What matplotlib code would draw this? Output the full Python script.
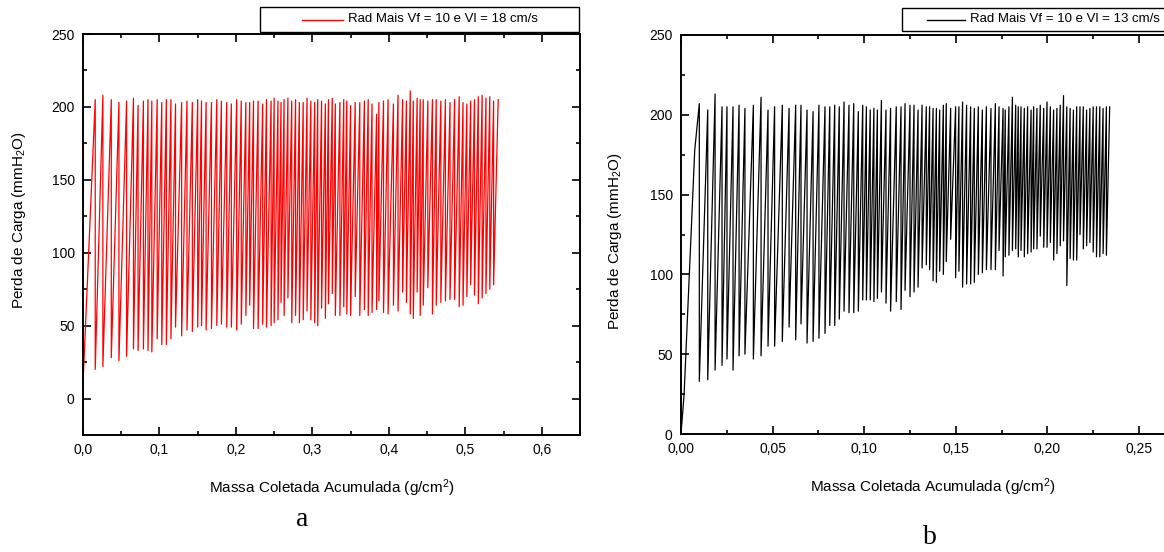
import matplotlib
matplotlib.use("Agg")
import matplotlib.pyplot as plt
from matplotlib.ticker import MultipleLocator, FuncFormatter
from matplotlib.patches import Rectangle
from matplotlib.lines import Line2D

plt.rcParams['font.family'] = 'Liberation Sans'
plt.rcParams['mathtext.fontset'] = 'custom'
plt.rcParams['mathtext.rm'] = 'Liberation Sans'
plt.rcParams['mathtext.it'] = 'Liberation Sans'

# ---- dados (a): Vf = 10, Vl = 18 cm/s ----
red_start_x = [0.0]
red_start_y = [10]
red_x = [0.016, 0.026, 0.037, 0.047, 0.057, 0.066, 0.072, 0.079, 0.085, 0.090,
         0.097, 0.103, 0.109, 0.115, 0.121, 0.129, 0.136, 0.143, 0.150, 0.155,
         0.161, 0.168, 0.175, 0.181, 0.188, 0.194, 0.201, 0.207, 0.213, 0.218,
         0.223, 0.229, 0.235, 0.240, 0.246, 0.250, 0.255, 0.259, 0.263, 0.268,
         0.273, 0.278, 0.283, 0.288, 0.293, 0.298, 0.303, 0.307, 0.312, 0.317,
         0.321, 0.326, 0.330, 0.336, 0.341, 0.345, 0.350, 0.356, 0.362, 0.368,
         0.373, 0.378, 0.384, 0.387, 0.393, 0.399, 0.406, 0.412, 0.418, 0.423,
         0.428, 0.432, 0.437, 0.441, 0.445, 0.451, 0.457, 0.462, 0.468, 0.474,
         0.480, 0.486, 0.492, 0.497, 0.502, 0.507, 0.512, 0.517, 0.522, 0.527,
         0.532, 0.537]
red_peak = [205, 208, 205, 203, 204, 206, 201, 204, 205, 204,
            205, 203, 205, 205, 202, 203, 204, 203, 205, 204,
            203, 203, 205, 204, 203, 202, 205, 204, 203, 203,
            204, 204, 202, 205, 204, 206, 204, 203, 205, 206,
            204, 205, 203, 203, 206, 204, 203, 205, 204, 202,
            205, 206, 202, 203, 205, 204, 201, 203, 203, 204,
            205, 202, 195, 203, 204, 205, 202, 208, 205, 204,
            211, 204, 206, 205, 205, 204, 205, 205, 204, 205,
            203, 205, 207, 203, 202, 204, 205, 207, 208, 206,
            207, 204]
red_trough = [20, 22, 28, 26, 29, 34, 33, 34, 33, 32,
              41, 37, 37, 41, 49, 43, 47, 46, 49, 50,
              47, 48, 50, 51, 49, 49, 47, 51, 57, 64,
              48, 48, 51, 49, 50, 52, 54, 66, 57, 69,
              52, 57, 52, 54, 60, 54, 52, 50, 62, 55,
              65, 72, 57, 57, 63, 58, 57, 70, 57, 61,
              57, 59, 61, 67, 59, 58, 64, 60, 73, 66,
              58, 55, 73, 57, 64, 76, 58, 64, 66, 67,
              68, 68, 63, 64, 70, 78, 71, 65, 69, 72,
              75, 78]
red_end = (0.543, 205)

# ---- dados (b): Vf = 10, Vl = 13 cm/s ----
blk_start_x = [0.0, 0.0017, 0.0075]
blk_start_y = [0, 25, 178]
blk_x = [0.0100, 0.0146, 0.0186, 0.0224, 0.0251, 0.0284, 0.0317, 0.0349, 0.0395, 0.0437,
         0.0475, 0.0511, 0.0553, 0.0590, 0.0626, 0.0655, 0.0688, 0.0721, 0.0753, 0.0786,
         0.0812, 0.0839, 0.0864, 0.0890, 0.0917, 0.0943, 0.0968, 0.0992, 0.1012, 0.1033,
         0.1053, 0.1072, 0.1094, 0.1119, 0.1144, 0.1175, 0.1201, 0.1223, 0.1250, 0.1272,
         0.1294, 0.1316, 0.1339, 0.1357, 0.1376, 0.1394, 0.1412, 0.1432, 0.1448, 0.1472,
         0.1499, 0.1517, 0.1537, 0.1559, 0.1581, 0.1601, 0.1623, 0.1645, 0.1667, 0.1692,
         0.1716, 0.1736, 0.1758, 0.1770, 0.1790, 0.1809, 0.1827, 0.1841, 0.1856, 0.1874,
         0.1892, 0.1911, 0.1925, 0.1943, 0.1961, 0.1980, 0.1998, 0.2016, 0.2034, 0.2052,
         0.2070, 0.2088, 0.2106, 0.2124, 0.2142, 0.2160, 0.2178, 0.2196, 0.2214, 0.2232,
         0.2250, 0.2268, 0.2286, 0.2304, 0.2322]
blk_peak = [207, 203, 213, 205, 205, 205, 206, 204, 206, 211,
            203, 205, 206, 204, 206, 206, 203, 202, 206, 205,
            205, 206, 205, 208, 206, 207, 202, 206, 205, 203,
            204, 203, 209, 203, 204, 205, 205, 207, 206, 206,
            203, 206, 205, 205, 204, 204, 203, 206, 207, 204,
            205, 205, 208, 206, 205, 204, 205, 203, 205, 204,
            207, 205, 204, 203, 205, 211, 206, 205, 205, 204,
            205, 203, 205, 204, 206, 204, 208, 205, 203, 204,
            206, 212, 205, 204, 203, 205, 205, 205, 203, 204,
            205, 205, 205, 204, 205]
blk_trough = [33, 34, 40, 43, 47, 40, 49, 50, 47, 49,
              55, 55, 58, 67, 59, 69, 57, 58, 60, 63,
              68, 68, 72, 77, 76, 76, 77, 84, 84, 84,
              83, 85, 89, 82, 77, 83, 78, 90, 86, 89,
              92, 104, 106, 103, 96, 95, 102, 100, 108, 122,
              98, 102, 92, 94, 94, 95, 100, 101, 103, 103,
              103, 115, 99, 111, 112, 115, 116, 111, 115, 111,
              113, 114, 116, 116, 124, 117, 117, 120, 109, 113,
              118, 121, 93, 110, 109, 109, 125, 116, 118, 120,
              114, 111, 111, 113, 112]
blk_end = (0.234, 205)


def sawtooth(sx, sy, ev_x, peaks, troughs, end):
    xs, ys = list(sx), list(sy)
    for x, p, t in zip(ev_x, peaks, troughs):
        xs += [x, x]
        ys += [p, t]
    xs.append(end[0])
    ys.append(end[1])
    return xs, ys


def comma(fmt):
    return FuncFormatter(lambda v, pos: fmt.format(v).replace('.', ','))


def style_axes(ax, xmaj, xmin, xfmt):
    ax.xaxis.set_major_locator(MultipleLocator(xmaj))
    ax.xaxis.set_minor_locator(MultipleLocator(xmin))
    ax.yaxis.set_major_locator(MultipleLocator(50))
    ax.yaxis.set_minor_locator(MultipleLocator(25))
    ax.xaxis.set_major_formatter(comma(xfmt))
    ax.tick_params(which='both', direction='in', top=True, right=True,
                   labelsize=10, width=1.2, pad=6)
    ax.tick_params(which='major', length=6)
    ax.tick_params(which='minor', length=3)
    for s in ax.spines.values():
        s.set_linewidth(1.4)


W, H = 1164, 552
fig = plt.figure(figsize=(W / 100, H / 100), dpi=100)

# painel a
ax_a = fig.add_axes([83 / W, (H - 435) / H, 497 / W, 401 / H])
xa, ya = sawtooth(red_start_x, red_start_y, red_x, red_peak, red_trough, red_end)
ax_a.plot(xa, ya, color='#ff0000', lw=0.9)
ax_a.set_xlim(0, 0.65)
ax_a.set_ylim(-25, 250)
style_axes(ax_a, 0.1, 0.05, '{:.1f}')
ax_a.set_xlabel('Massa Coletada Acumulada (g/cm$^{2}$)', fontsize=11)
ax_a.set_ylabel('Perda de Carga (mmH$_{2}$O)', fontsize=11)
ax_a.xaxis.set_label_coords(0.5, -0.132)
ax_a.xaxis.label.set_va('center')
ax_a.yaxis.set_label_coords(-0.129, 0.536)
ax_a.yaxis.label.set_va('center')

# painel b (cortado na borda direita)
wb = 0.29 * 1832
ax_b = fig.add_axes([681 / W, (H - 434) / H, wb / W, 399 / H])
xb, yb = sawtooth(blk_start_x, blk_start_y, blk_x, blk_peak, blk_trough, blk_end)
ax_b.plot(xb, yb, color='black', lw=0.9)
ax_b.set_xlim(0, 0.29)
ax_b.set_ylim(0, 250)
style_axes(ax_b, 0.05, 0.025, '{:.2f}')
ax_b.set_xlabel('Massa Coletada Acumulada (g/cm$^{2}$)', fontsize=11)
ax_b.set_ylabel('Perda de Carga (mmH$_{2}$O)', fontsize=11)
ax_b.xaxis.set_label_coords((933 - 681) / wb, -0.133)
ax_b.xaxis.label.set_va('center')
ax_b.yaxis.set_label_coords((615 - 681) / wb, 0.484)
ax_b.yaxis.label.set_va('center')


# legendas desenhadas em pixels da figura
def px(x, y):
    return x / W, 1 - y / H


def legend_box(x0, x1, y0, y1, lx0, lx1, tx, color, label):
    fig.add_artist(Rectangle(px(x0, y1), (x1 - x0) / W, (y1 - y0) / H,
                             transform=fig.transFigure, fill=False,
                             ec='black', lw=1.0))
    ym = (y0 + y1) / 2
    fig.add_artist(Line2D([lx0 / W, lx1 / W], [1 - ym / H] * 2,
                          transform=fig.transFigure, color=color, lw=1.0))
    fig.text(*px(tx, ym), label, ha='left', va='center', fontsize=9.5)


legend_box(260, 579, 7, 32, 302, 343, 348, '#ff0000', 'Rad Mais Vf = 10 e Vl = 18 cm/s')
legend_box(902, 1200, 8, 31, 927, 965, 970, 'black', 'Rad Mais Vf = 10 e Vl = 13 cm/s')

fig.text(*px(302, 520), 'a', family='Liberation Serif', fontsize=20, ha='center', va='center')
fig.text(*px(930, 538), 'b', family='Liberation Serif', fontsize=20, ha='center', va='center')

fig.savefig('out.png', dpi=100)
